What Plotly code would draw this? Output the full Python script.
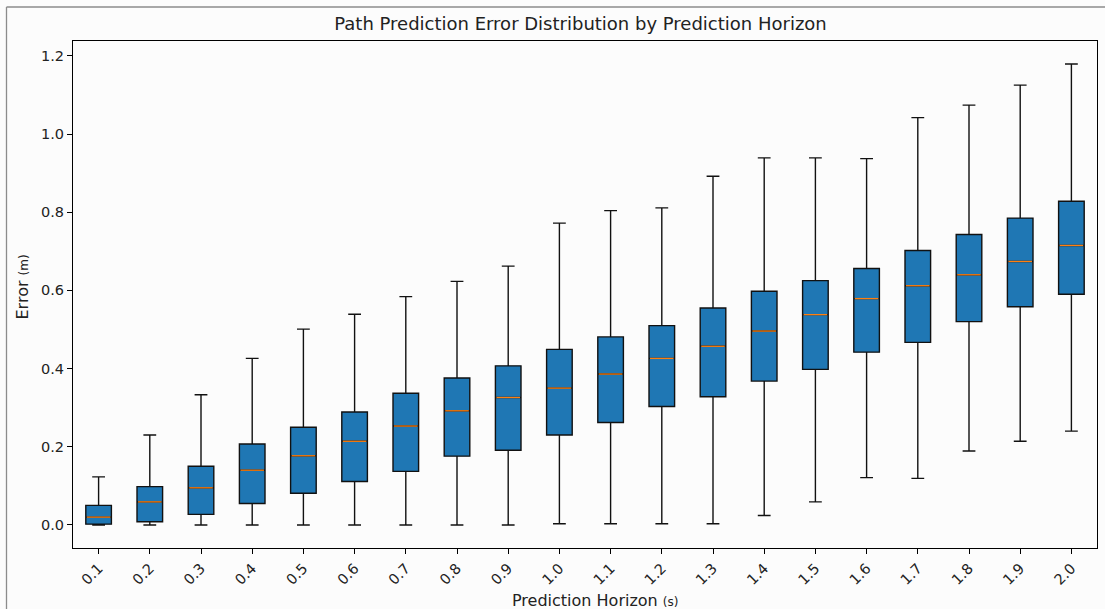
import plotly.graph_objects as go

horizons = ["0.1", "0.2", "0.3", "0.4", "0.5", "0.6", "0.7", "0.8", "0.9", "1.0",
            "1.1", "1.2", "1.3", "1.4", "1.5", "1.6", "1.7", "1.8", "1.9", "2.0"]
positions = list(range(1, len(horizons) + 1))

lower_whisker = [0.000, 0.000, 0.000, 0.000, 0.000, 0.000, 0.000, 0.000, 0.000, 0.003,
                 0.003, 0.003, 0.003, 0.024, 0.059, 0.121, 0.119, 0.189, 0.214, 0.240]
q1 = [0.002, 0.008, 0.027, 0.055, 0.081, 0.111, 0.137, 0.176, 0.191, 0.230,
      0.262, 0.303, 0.328, 0.368, 0.398, 0.442, 0.467, 0.520, 0.558, 0.590]
median = [0.020, 0.059, 0.095, 0.140, 0.177, 0.214, 0.253, 0.292, 0.326, 0.350,
          0.386, 0.426, 0.457, 0.496, 0.538, 0.579, 0.612, 0.640, 0.674, 0.715]
q3 = [0.050, 0.098, 0.150, 0.207, 0.250, 0.289, 0.337, 0.376, 0.407, 0.449,
      0.481, 0.510, 0.555, 0.598, 0.625, 0.656, 0.702, 0.743, 0.785, 0.828]
upper_whisker = [0.123, 0.230, 0.333, 0.426, 0.501, 0.539, 0.584, 0.623, 0.662, 0.772,
                 0.804, 0.811, 0.892, 0.939, 0.939, 0.937, 1.042, 1.074, 1.125, 1.179]

box_width = 0.5
FONT = "DejaVu Sans"
L, R, T, B = 73, 8, 41, 61
PW, PH = 1105 - L - R, 609 - T - B


def px_x(px):
    return (px - L) / PW


def px_y(py):
    return (609 - B - py) / PH


fig = go.Figure()
fig.add_trace(go.Box(
    x=positions, q1=q1, median=median, q3=q3,
    lowerfence=lower_whisker, upperfence=upper_whisker,
    width=box_width, whiskerwidth=0.5, boxpoints=False,
    fillcolor="#1f77b4", line=dict(color="#111", width=1.4),
    showlegend=False, hoverinfo="skip",
))

# orange median lines (matplotlib style)
mx, my = [], []
for p, m in zip(positions, median):
    mx += [p - box_width / 2 + 0.02, p + box_width / 2 - 0.02, None]
    my += [m, m, None]
fig.add_trace(go.Scatter(x=mx, y=my, mode="lines",
                         line=dict(color="#ff7f0e", width=1.3),
                         showlegend=False, hoverinfo="skip"))

fig.update_layout(
    width=1105, height=609,
    margin=dict(l=L, r=R, t=T, b=B),
    paper_bgcolor="#fcfcfc", plot_bgcolor="#fcfcfc",
    font=dict(family=FONT, size=15, color="#222"),
    title=dict(text="Path Prediction Error Distribution by Prediction Horizon",
               x=px_x(580.5), xref="paper", xanchor="center",
               y=1 - 24 / 609, yanchor="middle",
               font=dict(family=FONT, size=18, color="#222")),
    xaxis=dict(
        range=[0.5, 20.5], tickmode="array", tickvals=positions, ticktext=horizons,
        tickangle=-45, ticks="outside", ticklen=5, tickwidth=1, tickcolor="black",
        tickfont=dict(size=14.5),
        showline=True, linecolor="black", linewidth=1.2, mirror=True,
        showgrid=False, zeroline=False,
    ),
    yaxis=dict(
        range=[-0.059, 1.238], tickmode="array",
        tickvals=[0.0, 0.2, 0.4, 0.6, 0.8, 1.0, 1.2],
        ticktext=["0.0", "0.2", "0.4", "0.6", "0.8", "1.0", "1.2"],
        ticks="outside", ticklen=5, tickwidth=1, tickcolor="black",
        tickfont=dict(size=14.5),
        showline=True, linecolor="black", linewidth=1.2, mirror=True,
        showgrid=False, zeroline=False,
    ),
)

# axis titles
fig.add_annotation(text="Prediction Horizon <span style='font-size:12px'>(s)</span>",
                   xref="paper", yref="paper", x=px_x(595), y=px_y(600),
                   xanchor="center", yanchor="middle", showarrow=False,
                   font=dict(family=FONT, size=16, color="#222"))
fig.add_annotation(text="Error <span style='font-size:12px'>(m)</span>",
                   xref="paper", yref="paper", x=px_x(22), y=px_y(287.5),
                   xanchor="center", yanchor="middle", showarrow=False, textangle=-90,
                   font=dict(family=FONT, size=16, color="#222"))

# outer frame lines (left and top edges of the figure border)
fig.add_shape(type="line", xref="paper", yref="paper",
              x0=px_x(6.5), x1=px_x(6.5), y0=-0.2, y1=px_y(7),
              line=dict(color="#8c8c8c", width=1.3))
fig.add_shape(type="line", xref="paper", yref="paper",
              x0=px_x(6.5), x1=1.1, y0=px_y(7), y1=px_y(7),
              line=dict(color="#8c8c8c", width=1.3))

fig.write_html("out.html")
